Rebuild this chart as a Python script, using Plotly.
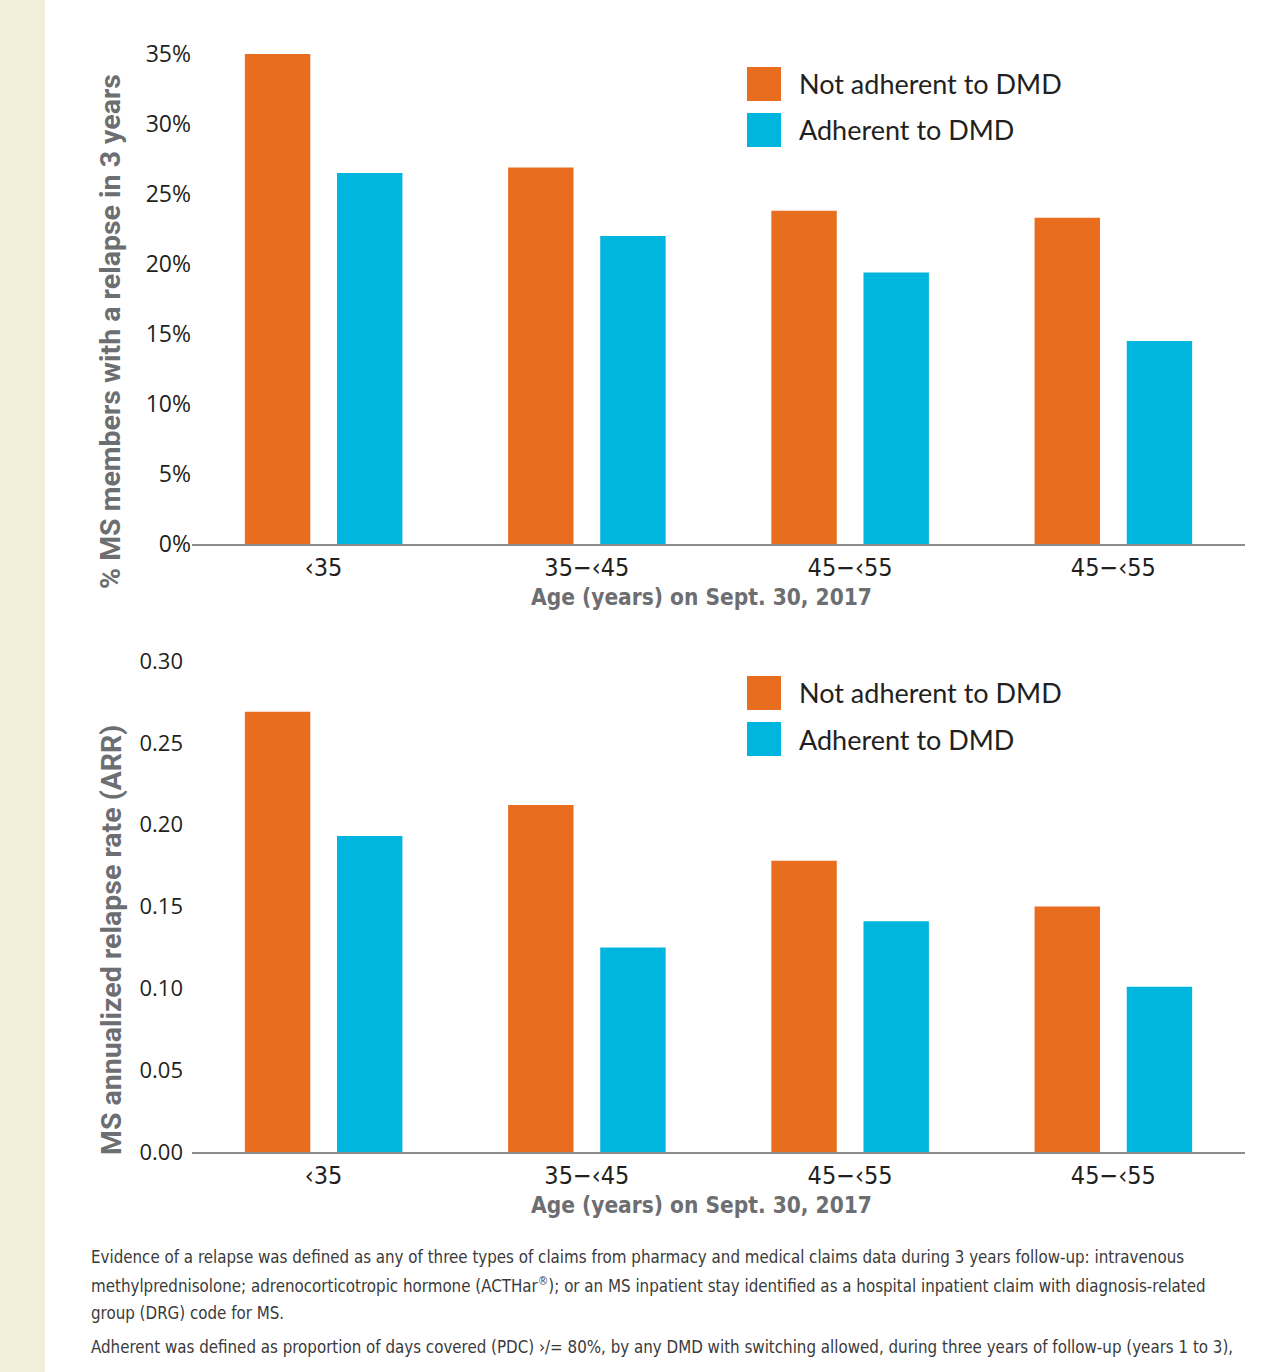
import plotly.graph_objects as go
from plotly.subplots import make_subplots

# ---- data ----
categories = ["‹35", "35−‹45", "45−‹55", "45−‹55"]
series_names = ["Not adherent to DMD", "Adherent to DMD"]
relapse_not_adherent = [35.0, 26.9, 23.8, 23.3]
relapse_adherent = [26.5, 22.0, 19.4, 14.5]
arr_not_adherent = [0.269, 0.212, 0.178, 0.150]
arr_adherent = [0.193, 0.125, 0.141, 0.101]
pct_ticks = [0, 5, 10, 15, 20, 25, 30, 35]
arr_ticks = [0.00, 0.05, 0.10, 0.15, 0.20, 0.25, 0.30]

footnote_lines = [
    "Evidence of a relapse was defined as any of three types of claims from pharmacy and medical claims data during 3 years follow-up: intravenous",
    "methylprednisolone; adrenocorticotropic hormone (ACTHar<sup>®</sup>); or an MS inpatient stay identified as a hospital inpatient claim with diagnosis-related",
    "group (DRG) code for MS.",
    "Adherent was defined as proportion of days covered (PDC) ›/= 80%, by any DMD with switching allowed, during three years of follow-up (years 1 to 3),",
]

ORANGE = "#E86D1F"
BLUE = "#00B5DE"
colors = [ORANGE, BLUE]
W, H = 1276, 1372
L, R = 192, 31
PW = W - L - R

def px_x(px):
    return (px - L) / PW

def px_y(py):
    return 1 - py / H

xs = list(range(len(categories)))

fig = make_subplots(rows=2, cols=1)

for vals, name, col in zip([relapse_not_adherent, relapse_adherent], series_names, colors):
    fig.add_trace(go.Bar(x=xs, y=vals, name=name, marker=dict(color=col, line=dict(width=0)),
                         showlegend=False), row=1, col=1)
for vals, name, col in zip([arr_not_adherent, arr_adherent], series_names, colors):
    fig.add_trace(go.Bar(x=xs, y=vals, name=name, marker=dict(color=col, line=dict(width=0)),
                         showlegend=False), row=2, col=1)

COND = "DejaVu Sans Condensed, Liberation Sans Narrow, Roboto, sans-serif"
tick_font = dict(family="Open Sans, Lato, sans-serif", size=23, color="#231F20")
xtick_font = dict(family=COND, size=25, color="#231F20")

axis_common_x = dict(range=[-0.5, 3.5], tickvals=xs, ticktext=categories, showline=True,
                     linecolor="#8C8C8C", linewidth=1.5, showgrid=False, zeroline=False,
                     ticks="", tickfont=xtick_font, automargin=False)

fig.update_layout(
    xaxis=dict(domain=[0, 1], anchor="y", **axis_common_x),
    xaxis2=dict(domain=[0, 1], anchor="y2", **axis_common_x),
    yaxis=dict(domain=[px_y(544), px_y(40)], range=[0, 36], tickvals=pct_ticks,
               ticktext=[f"{v}%" for v in pct_ticks], showgrid=False, zeroline=False,
               showline=False, ticks="", tickfont=tick_font, automargin=False),
    yaxis2=dict(domain=[px_y(1152), px_y(661)], range=[0, 0.30], tickvals=arr_ticks,
                ticktext=[f"{v:.2f}" for v in arr_ticks], showgrid=False, zeroline=False,
                showline=False, ticks="", tickfont=dict(tick_font, size=22), automargin=False,
                ticklabelstandoff=8),
    barmode="group",
    bargap=0.30,
    bargroupgap=0.29,
    width=W, height=H,
    margin=dict(l=L, r=R, t=0, b=0, autoexpand=False),
    paper_bgcolor="white",
    plot_bgcolor="white",
    showlegend=False,
)

shapes = []
annotations = []
# beige strip on left
shapes.append(dict(type="rect", xref="paper", yref="paper", x0=px_x(0), x1=px_x(45), y0=0, y1=1,
                   fillcolor="#F1EFD8", line=dict(width=0), layer="below"))

# legends (custom large swatches)
legend_rows = [[(67, 101), (113, 147)], [(676, 710), (722, 756)]]
for rows in legend_rows:
    for (y0, y1), name, col in zip(rows, series_names, colors):
        shapes.append(dict(type="rect", xref="paper", yref="paper", x0=px_x(747), x1=px_x(781),
                           y0=px_y(y1), y1=px_y(y0), fillcolor=col, line=dict(width=0)))
        annotations.append(dict(xref="paper", yref="paper", x=px_x(797), y=px_y((y0 + y1) / 2),
                                xanchor="left", yanchor="middle", showarrow=False, text=name,
                                font=dict(family="Lato, Open Sans, sans-serif", size=27, color="#231F20")))

# axis titles
title_font = dict(family="Roboto, Open Sans, sans-serif", size=28.5, color="#6D6E71", weight="bold")
annotations.append(dict(xref="paper", yref="paper", x=px_x(111), y=px_y(332), textangle=-90,
                        showarrow=False, text="<b>% MS members with a relapse in 3 years</b>", font=title_font,
                        xanchor="center", yanchor="middle"))
annotations.append(dict(xref="paper", yref="paper", x=px_x(111), y=px_y(940), textangle=-90,
                        showarrow=False, text="<b>MS annualized relapse rate (ARR)</b>", font=title_font,
                        xanchor="center", yanchor="middle"))
xt_font = dict(family=COND, size=22.5, color="#6D6E71", weight="bold")
for yc in (597, 1205):
    annotations.append(dict(xref="paper", yref="paper", x=px_x(701), y=px_y(yc), showarrow=False,
                            text="<b>Age (years) on Sept. 30, 2017</b>", font=xt_font,
                            xanchor="center", yanchor="middle"))

# footnotes
foot_y = [1257, 1285, 1313, 1347]
for yc, line in zip(foot_y, footnote_lines):
    annotations.append(dict(xref="paper", yref="paper", x=px_x(89), y=px_y(yc), showarrow=False,
                            text=line, xanchor="left", yanchor="middle",
                            font=dict(family=COND, size=16.8, color="#3A3A3A")))

fig.update_layout(shapes=shapes, annotations=annotations)
fig.write_html("out.html")
